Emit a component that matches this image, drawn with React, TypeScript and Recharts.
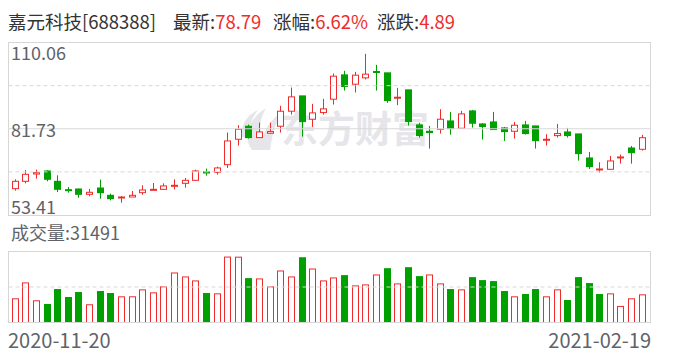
import React from 'react';
import { ComposedChart, Bar, XAxis, YAxis, ReferenceLine } from 'recharts';

const dates = [
  '2020-11-20', '2020-11-23', '2020-11-24', '2020-11-25', '2020-11-26', '2020-11-27',
  '2020-11-30', '2020-12-01', '2020-12-02', '2020-12-03', '2020-12-04',
  '2020-12-07', '2020-12-08', '2020-12-09', '2020-12-10', '2020-12-11',
  '2020-12-14', '2020-12-15', '2020-12-16', '2020-12-17', '2020-12-18',
  '2020-12-21', '2020-12-22', '2020-12-23', '2020-12-24', '2020-12-25',
  '2020-12-28', '2020-12-29', '2020-12-30', '2020-12-31',
  '2021-01-04', '2021-01-05', '2021-01-06', '2021-01-07', '2021-01-08',
  '2021-01-11', '2021-01-12', '2021-01-13', '2021-01-14', '2021-01-15',
  '2021-01-18', '2021-01-19', '2021-01-20', '2021-01-21', '2021-01-22',
  '2021-01-25', '2021-01-26', '2021-01-27', '2021-01-28', '2021-01-29',
  '2021-02-01', '2021-02-02', '2021-02-03', '2021-02-04', '2021-02-05',
  '2021-02-08', '2021-02-09', '2021-02-10', '2021-02-18', '2021-02-19',
];

const opens = [
  62.06, 64.47, 66.88, 67.87, 64.47, 61.73, 61.95, 60.2, 62.28, 59.87,
  59.21, 59.32, 60.74, 61.62, 61.84, 63.05, 63.81, 64.8, 67.54, 67.43,
  69.95, 78.28, 82.56, 78.83, 80.26, 82.56, 87.49, 92.53, 84.86, 87.05,
  91.44, 99.44, 96.37, 98.45, 100.53, 100.1, 91.98, 94.51, 83.0, 80.91,
  81.57, 84.31, 81.9, 87.6, 83.32, 83.98, 82.01, 80.91, 83.0, 82.67,
  78.17, 79.49, 80.69, 80.04, 72.15, 68.42, 68.42, 72.36, 75.43, 74.99,
];
const highs = [
  65.13, 68.2, 68.31, 68.09, 66.45, 62.61, 62.1, 61.95, 65.02, 60.42,
  59.65, 61.29, 63.16, 63.92, 63.81, 65.13, 65.57, 68.31, 68.64, 69.29,
  80.48, 82.89, 83.11, 83.76, 83.76, 89.25, 95.27, 92.53, 89.9, 91.55,
  99.88, 100.75, 100.42, 106.34, 102.73, 100.1, 95.16, 94.51, 83.65, 82.67,
  88.15, 87.27, 87.6, 87.93, 83.54, 87.27, 82.34, 83.98, 84.31, 82.67,
  79.93, 83.32, 82.01, 80.04, 74.12, 70.72, 72.8, 73.24, 76.09, 79.71,
];
const lows = [
  61.4, 63.81, 65.35, 64.47, 60.96, 60.74, 59.1, 59.54, 58.77, 58.22,
  57.46, 59.32, 60.09, 61.51, 61.73, 61.84, 62.39, 64.69, 66.34, 66.66,
  68.86, 76.2, 78.5, 78.83, 80.15, 80.48, 86.39, 79.16, 82.34, 86.39,
  89.68, 94.29, 93.63, 97.9, 94.29, 90.23, 89.46, 82.78, 78.83, 75.22,
  80.15, 79.82, 81.9, 82.12, 78.17, 81.46, 77.73, 78.5, 79.82, 75.22,
  76.2, 78.83, 78.83, 71.27, 68.53, 67.32, 68.31, 70.28, 70.28, 74.56,
];
const closes = [
  64.47, 66.77, 67.32, 65.13, 61.84, 61.62, 60.2, 60.86, 60.74, 58.77,
  59.32, 59.87, 61.62, 61.84, 62.94, 63.16, 64.8, 67.87, 67.32, 68.86,
  77.73, 81.57, 78.83, 80.69, 80.8, 87.49, 92.2, 84.09, 86.94, 88.26,
  99.0, 95.6, 99.33, 99.66, 100.21, 91.0, 92.09, 84.09, 79.49, 80.48,
  84.86, 81.79, 86.61, 83.54, 82.45, 81.46, 80.8, 82.89, 80.15, 77.84,
  78.28, 80.15, 79.49, 73.57, 69.29, 68.53, 71.16, 72.47, 73.9, 78.79,
];
const volumes = [
  27050, 44830, 24820, 20750, 37420, 28530, 34090, 20380, 35200, 32970,
  29270, 29300, 37050, 33720, 40380, 55950, 51500, 47050, 32970, 32600,
  73730, 73600, 49650, 49280, 40380, 58170, 51500, 72990, 60390, 47050,
  50390, 52980, 41500, 42610, 53720, 60760, 43720, 61870, 51870, 53720,
  43720, 37420, 37050, 50760, 47420, 46310, 35200, 29270, 31860, 37420,
  29270, 37050, 25190, 50760, 44090, 31860, 32600, 18530, 27050, 31491,
];

const priceTicks = ['110.06', '81.73', '53.41'];
const priceMax = 110.06;
const priceMin = 53.41;
const volumeMax = 79400;

const RED = '#ef2b2b';
const GREEN = '#00a000';
const GRID = '#d9d9d9';
const LABEL = '#5f6368';
const FONT = "'Noto Sans CJK SC', 'Noto Sans', sans-serif";

const data = dates.map((date, i) => ({
  date,
  open: opens[i],
  high: highs[i],
  low: lows[i],
  close: closes[i],
  volume: volumes[i],
  volUp: i === 0 ? true : closes[i] >= closes[i - 1],
}));

const Candle = (props: any) => {
  const { x, y, width, height, payload } = props;
  if (!payload) return null;
  const { open, close, high, low } = payload;
  const top = Math.min(y, y + height);
  const h = Math.abs(height);
  const k = high > low ? h / (high - low) : 0;
  const cx = Math.round(x + width / 2 - 0.5) + 0.5;
  const py = (v: number) => top + (high - v) * k;
  const up = close >= open;
  const color = up ? RED : GREEN;
  const bTop = py(Math.max(open, close));
  let bBot = py(Math.min(open, close));
  if (bBot - bTop < 1) bBot = bTop + 1;
  return (
    <g>
      <line x1={cx} x2={cx} y1={top} y2={top + h} stroke={color} strokeWidth={1} />
      {up ? (
        <rect x={cx - 3} y={bTop} width={6} height={bBot - bTop} fill="#fff" stroke={color} strokeWidth={1} />
      ) : (
        <rect x={cx - 3.5} y={bTop - 0.5} width={7} height={bBot - bTop + 1} fill={color} />
      )}
    </g>
  );
};

const VolBar = (props: any) => {
  const { x, y, width, height, payload } = props;
  if (!payload) return null;
  const top = Math.min(y, y + height);
  const h = Math.abs(height);
  const cx = Math.round(x + width / 2 - 0.5) + 0.5;
  if (payload.volUp) {
    return <rect x={cx - 3} y={top + 0.5} width={6} height={h - 0.5} fill="#fff" stroke={RED} strokeWidth={1} />;
  }
  return <rect x={cx - 3.5} y={top} width={7} height={h} fill={GREEN} />;
};

const frame = (top: number, height: number): React.CSSProperties => ({
  position: 'absolute',
  left: 8,
  top,
  width: 643,
  height,
  border: '1px solid #d6d6d6',
  boxSizing: 'border-box',
  pointerEvents: 'none',
});

export default function App() {
  return (
    <div style={{ position: 'absolute', left: 0, top: 0, width: 688, height: 360, background: '#fff', overflow: 'hidden', fontFamily: FONT }}>
      <svg width={688} height={360} style={{ position: 'absolute', left: 0, top: 0 }}>
        <g fill="#e5e5ea">
          <path d="M 252 150 C 243 138, 247 120, 266 108 C 259 120, 259 130, 263 138 C 266 126, 273 117, 283 112 C 274 124, 272 138, 270 150 Z" />
          <path d="M 241 136 C 241 124, 248 114, 258 110 C 250 120, 248 130, 250 140 Z" />
        </g>
        <text x={281} y={143} fontSize={37} fontWeight={700} fill="#e5e5ea" fontFamily={FONT}>东方财富</text>
      </svg>
      <div style={{ position: 'absolute', left: 0, top: 0 }}>
        <ComposedChart width={688} height={225} data={data} margin={{ top: 42.5, right: 37.5, bottom: 10, left: 8.5 }}>
          <XAxis dataKey="date" hide padding={{ left: 1.2, right: 3.2 }} />
          <YAxis type="number" domain={[priceMin, priceMax]} allowDataOverflow hide />
          <ReferenceLine y={priceMax - (priceMax - priceMin) / 4} stroke={GRID} strokeDasharray="4 3" />
          <ReferenceLine y={(priceMax + priceMin) / 2} stroke={GRID} />
          <ReferenceLine y={priceMin + (priceMax - priceMin) / 4} stroke={GRID} strokeDasharray="4 3" />
          <Bar dataKey={(d: any) => [d.low, d.high]} barSize={7} shape={<Candle />} isAnimationActive={false} />
        </ComposedChart>
      </div>
      <div style={{ position: 'absolute', left: 0, top: 240 }}>
        <ComposedChart width={688} height={100} data={data} margin={{ top: 11.5, right: 37.5, bottom: 17.5, left: 8.5 }}>
          <XAxis dataKey="date" hide padding={{ left: 1.2, right: 3.2 }} />
          <YAxis type="number" domain={[0, volumeMax]} allowDataOverflow hide />
          <ReferenceLine y={volumeMax / 2} stroke={GRID} strokeDasharray="4 3" />
          <Bar dataKey="volume" barSize={7} shape={<VolBar />} isAnimationActive={false} />
        </ComposedChart>
      </div>
      <div style={frame(42, 174)} />
      <div style={frame(251, 72)} />
      <svg width={688} height={360} style={{ position: 'absolute', left: 0, top: 0, pointerEvents: 'none' }} fontFamily={FONT}>
        <text x={8} y={29} fontSize={18.5} fill="#333">嘉元科技[688388]</text>
        <text x={173} y={29} fontSize={18.5} fill="#333">最新:<tspan fill={RED}>{closes[closes.length - 1].toFixed(2)}</tspan></text>
        <text x={273} y={29} fontSize={18.5} fill="#333">涨幅:<tspan fill={RED}>6.62%</tspan></text>
        <text x={377} y={29} fontSize={18.5} fill="#333">涨跌:<tspan fill={RED}>4.89</tspan></text>
        <text x={11} y={60} fontSize={18} fill={LABEL}>{priceTicks[0]}</text>
        <text x={11} y={136.5} fontSize={18} fill={LABEL}>{priceTicks[1]}</text>
        <text x={11} y={213.5} fontSize={18} fill={LABEL}>{priceTicks[2]}</text>
        <text x={11} y={240} fontSize={18} fill={LABEL}>成交量:{volumes[volumes.length - 1]}</text>
        <text x={8} y={348} fontSize={20} fill={LABEL}>{dates[0]}</text>
        <text x={651} y={348} fontSize={20} fill={LABEL} textAnchor="end">{dates[dates.length - 1]}</text>
      </svg>
    </div>
  );
}
